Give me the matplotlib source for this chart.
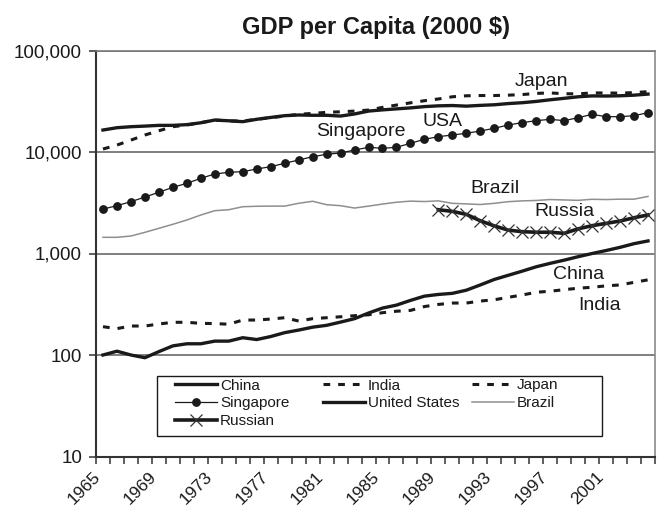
import matplotlib
matplotlib.use("Agg")
import matplotlib.pyplot as plt
from matplotlib.ticker import FixedLocator, FuncFormatter, NullFormatter
from matplotlib.lines import Line2D
from matplotlib.patches import Rectangle

plt.rcParams['font.family'] = ['Liberation Sans', 'DejaVu Sans']

# GDP per capita, constant 2000 US$
years = list(range(1965, 2005))
china = [100, 109, 100, 94, 108, 123, 129, 129, 137, 137, 148, 142, 152, 166, 176,
         188, 196, 211, 228, 259, 290, 310, 345, 380, 395, 405, 435, 490, 555, 610,
         670, 740, 800, 860, 930, 1000, 1070, 1150, 1250, 1330]
india = [190, 182, 193, 193, 202, 210, 210, 205, 204, 201, 221, 221, 226, 233, 216,
         228, 233, 238, 244, 249, 261, 270, 275, 300, 315, 325, 325, 340, 350, 370,
         390, 415, 425, 440, 455, 465, 480, 490, 520, 550]
japan = [10700, 11700, 13100, 14700, 16200, 17750, 18450, 19450, 20650, 20200, 20200,
         21000, 21800, 22600, 23500, 24000, 24600, 24900, 25300, 25900, 27500, 29000,
         30500, 32000, 33300, 35000, 35800, 36000, 36000, 36300, 36800, 37800, 38200,
         37500, 37400, 38200, 38200, 38000, 38500, 39300]
singapore = [2740, 2960, 3240, 3600, 4010, 4490, 4910, 5510, 6070, 6310, 6400, 6800,
             7170, 7740, 8340, 8990, 9490, 9780, 10460, 11120, 10870, 11130, 12180,
             13340, 14160, 14710, 15290, 16110, 17120, 18470, 19460, 20350, 21000,
             20350, 21780, 23510, 22280, 22280, 22800, 24380]
usa = [16470, 17350, 17750, 18000, 18300, 18300, 18600, 19400, 20650, 20300, 19900,
       21000, 21900, 22800, 23150, 23000, 23000, 22600, 23700, 25300, 26000, 26600,
       27200, 28000, 28500, 28700, 28300, 28800, 29200, 30000, 30600, 31500, 32700,
       33800, 35000, 35700, 35600, 35800, 36300, 37200]
brazil = [1444, 1444, 1487, 1617, 1771, 1940, 2138, 2395, 2641, 2700, 2890, 2920, 2930,
          2930, 3124, 3270, 3025, 2958, 2805, 2930, 3070, 3200, 3280, 3250, 3300, 3120,
          3080, 3040, 3120, 3240, 3300, 3330, 3400, 3370, 3340, 3420, 3400, 3430, 3430,
          3650]
russia_years = list(range(1989, 2005))
russia = [2700, 2600, 2430, 2100, 1870, 1700, 1640, 1620, 1620, 1580, 1750, 1880,
          1980, 2090, 2250, 2400]

y_ticks = [10, 100, 1000, 10000, 100000]
x_label_years = list(range(1965, 2005, 4))

W, H = 659, 509
fig = plt.figure(figsize=(W / 100, H / 100), dpi=100)
ax = fig.add_axes([96 / W, 1 - 456.5 / H, (655 - 96) / W, (456.5 - 50.5) / H])

x = [y - years[0] for y in years]
xr = [y - years[0] for y in russia_years]

ink = '#1a1a1a'
ax.plot(x, china, color=ink, lw=2.4, zorder=4)
ax.plot(x, india, color=ink, lw=2.2, dashes=(2.2, 2.6), zorder=4)
ax.plot(x, japan, color=ink, lw=2.2, dashes=(2.2, 2.6), zorder=4)
ax.plot(x, singapore, color=ink, lw=0.9, marker='o', ms=5.3, zorder=4)
ax.plot(x, usa, color=ink, lw=2.4, zorder=4)
ax.plot(x, brazil, color='#8f8f8f', lw=1.1, zorder=3)
ax.plot(xr, russia, color=ink, lw=2.6, marker='x', ms=9, mew=0.9,
        mec='#333333', zorder=4)

# series name tags
tags = [('Japan', 31.4, 50000), ('USA', 24.3, 20200), ('Singapore', 18.45, 15900),
        ('Brazil', 28.05, 4320), ('Russia', 33.0, 2565), ('China', 34.05, 628),
        ('India', 35.55, 304)]
for name, tx, ty in tags:
    ax.text(tx, ty, name, fontsize=14, color=ink, ha='center', va='center', zorder=6)

ax.set_yscale('log')
ax.set_ylim(10, 100000)
ax.set_xlim(-0.5, len(years) - 0.5)

ax.yaxis.set_major_locator(FixedLocator(y_ticks))
ax.yaxis.set_minor_locator(FixedLocator([]))
ax.yaxis.set_major_formatter(FuncFormatter(lambda v, p: f'{int(round(v)):,}'))
ax.tick_params(axis='y', which='major', direction='out', length=5, width=1.1,
               color='#333333', labelsize=13.5, labelcolor=ink, pad=5)

ax.xaxis.set_major_locator(FixedLocator([y - years[0] for y in x_label_years]))
ax.xaxis.set_major_formatter(FuncFormatter(lambda v, p: str(int(round(v)) + years[0])))
ax.xaxis.set_minor_locator(FixedLocator([i - 0.5 for i in range(len(years) + 1)]))
ax.xaxis.set_minor_formatter(NullFormatter())
ax.tick_params(axis='x', which='major', length=0, labelsize=12.5, labelcolor=ink, pad=9)
ax.tick_params(axis='x', which='minor', direction='out', length=5, width=1.1,
               color='#333333')
for lab in ax.get_xticklabels():
    lab.set_rotation(45)
    lab.set_ha('right')
    lab.set_va('top')

ax.yaxis.grid(True, which='major', color='#6a6a6a', lw=1.2, zorder=1)
ax.set_axisbelow(True)
for side in ('left', 'bottom'):
    ax.spines[side].set_color('#333333')
    ax.spines[side].set_linewidth(1.5)
ax.spines['top'].set_color('#7a7a7a')
ax.spines['top'].set_linewidth(1.2)
ax.spines['right'].set_color('#8a8a8a')
ax.spines['right'].set_linewidth(1.2)

ax.set_title('GDP per Capita (2000 $)', fontsize=17, fontweight='bold', color=ink, pad=12)

# legend: framed box holding three columns
fig.patches.append(Rectangle((157 / W, 1 - 436 / H), (602 - 157) / W, (436 - 376) / H,
                             transform=fig.transFigure, facecolor='white',
                             edgecolor=ink, lw=1.0, zorder=7))

def handle(**kw):
    base = dict(color=ink)
    base.update(kw)
    return Line2D([], [], **base)

columns = [
    (175, [(handle(lw=2.4), 'China'),
           (handle(lw=0.9, marker='o', ms=5.3), 'Singapore'),
           (handle(lw=2.6, marker='x', ms=9, mew=0.9, mec='#333333'), 'Russian')]),
    (323, [(handle(lw=2.2, dashes=(2.2, 2.6)), 'India'),
           (handle(lw=2.4), 'United States')]),
    (472, [(handle(lw=2.2, dashes=(2.2, 2.6)), 'Japan'),
           (handle(lw=1.1, color='#8f8f8f'), 'Brazil')]),
]
for cx, items in columns:
    leg = fig.legend([h for h, _ in items], [t for _, t in items], loc='upper left',
                     bbox_to_anchor=(cx / W, 1 - 378.5 / H), bbox_transform=fig.transFigure,
                     frameon=False, borderpad=0, borderaxespad=0, handlelength=2.75,
                     handletextpad=0.2, labelspacing=0.25, fontsize=11, numpoints=1)
    leg.set_zorder(8)
    for t in leg.get_texts():
        t.set_color(ink)

fig.savefig('out.png', dpi=100)
